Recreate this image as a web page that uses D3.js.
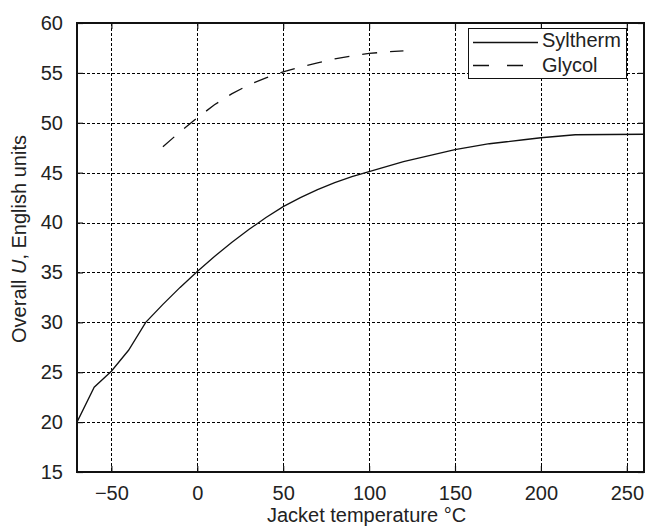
<!DOCTYPE html>
<html>
<head>
<meta charset="utf-8">
<script src="https://cdn.jsdelivr.net/npm/d3@7"></script>
<style>
  html, body { margin: 0; padding: 0; background: #fff; }
  svg { display: block; font-family: "Liberation Sans", Arial, Helvetica, sans-serif; }
</style>
</head>
<body>
<svg id="chart" width="649" height="526"></svg>
<script>
// Overall heat-transfer coefficient U vs. jacket temperature for two fluids
const sylthermTemp = [-70, -60, -50, -40, -30, -20, -10, 0, 10, 20, 30, 40, 50, 60, 70, 80, 90, 100,
  110, 120, 130, 140, 150, 160, 170, 180, 190, 200, 210, 220, 260];
const sylthermU = [20.0, 23.5, 25.1, 27.2, 30.0, 31.8, 33.5, 35.1, 36.6, 38.0, 39.3, 40.5, 41.6, 42.5, 43.3, 44.0, 44.6, 45.1,
  45.6, 46.1, 46.5, 46.9, 47.3, 47.6, 47.9, 48.1, 48.3, 48.5, 48.65, 48.8, 48.85];

const glycolTemp = [-20, -10, 0, 10, 20, 30, 40, 50, 60, 70, 80, 90, 100, 110, 120];
const glycolU = [47.6, 49.1, 50.5, 51.8, 52.9, 53.8, 54.5, 55.1, 55.6, 56.0, 56.4, 56.7, 56.95, 57.1, 57.2];

const xTicks = [-50, 0, 50, 100, 150, 200, 250];
const yTicks = [15, 20, 25, 30, 35, 40, 45, 50, 55, 60];
const seriesNames = ["Syltherm", "Glycol"];

const svg = d3.select("#chart");
const margin = { left: 77, top: 23, right: 5, bottom: 54 };
const W = 649, H = 526;
const x0 = margin.left, x1 = W - margin.right, y0 = margin.top, y1 = H - margin.bottom;

const x = d3.scaleLinear().domain([-70, 260]).range([x0, x1]);
const y = d3.scaleLinear().domain([15, 60]).range([y1, y0]);

const textColor = "#222";

// dotted grid
const grid = svg.append("g").attr("stroke", "#000").attr("stroke-width", 1).attr("stroke-dasharray", "3,2");
grid.selectAll("line.gx").data(xTicks).join("line")
  .attr("x1", d => Math.round(x(d)) + 0.5).attr("x2", d => Math.round(x(d)) + 0.5)
  .attr("y1", y0).attr("y2", y1);
grid.selectAll("line.gy").data(yTicks.filter(d => d > 15 && d < 60)).join("line")
  .attr("y1", d => Math.round(y(d)) + 0.5).attr("y2", d => Math.round(y(d)) + 0.5)
  .attr("x1", x0).attr("x2", x1);

// axes with inward ticks
const tickLen = 6;
const xAxisB = d3.axisBottom(x).tickValues(xTicks).tickSizeInner(-tickLen).tickSizeOuter(0).tickPadding(14);
const xAxisT = d3.axisTop(x).tickValues(xTicks).tickSizeInner(-tickLen).tickSizeOuter(0).tickFormat("");
const yAxisL = d3.axisLeft(y).tickValues(yTicks).tickSizeInner(-tickLen).tickSizeOuter(0).tickPadding(14);
const yAxisR = d3.axisRight(y).tickValues(yTicks).tickSizeInner(-tickLen).tickSizeOuter(0).tickFormat("");

function styleAxis(g) {
  g.select(".domain").remove();
  g.selectAll(".tick line").attr("stroke", "#111").attr("stroke-width", 1.2);
  g.selectAll(".tick text").attr("fill", textColor).style("font-size", "20px");
}
svg.append("g").attr("transform", `translate(0,${y1})`).call(xAxisB).call(styleAxis);
svg.append("g").attr("transform", `translate(0,${y0})`).call(xAxisT).call(styleAxis);
svg.append("g").attr("transform", `translate(${x0},0)`).call(yAxisL).call(styleAxis);
svg.append("g").attr("transform", `translate(${x1},0)`).call(yAxisR).call(styleAxis);

// curves
const line = d3.line().x(d => x(d[0])).y(d => y(d[1]));
const sylData = sylthermTemp.map((t, i) => [t, sylthermU[i]]);
const glyData = glycolTemp.map((t, i) => [t, glycolU[i]]);

svg.append("path").datum(sylData).attr("d", line)
  .attr("fill", "none").attr("stroke", "#111").attr("stroke-width", 1.3);
svg.append("path").datum(glyData).attr("d", line)
  .attr("fill", "none").attr("stroke", "#111").attr("stroke-width", 1.3)
  .attr("stroke-dasharray", "15,13");

// frame
svg.append("rect").attr("x", x0).attr("y", y0).attr("width", x1 - x0).attr("height", y1 - y0)
  .attr("fill", "none").attr("stroke", "#111").attr("stroke-width", 2);

// legend
const leg = svg.append("g");
leg.append("rect").attr("x", 468.5).attr("y", 28.5).attr("width", 158).attr("height", 50)
  .attr("fill", "#fff").attr("stroke", "#111").attr("stroke-width", 1);
const legRows = [
  { name: seriesNames[0], dash: null, cy: 42.5, base: 47 },
  { name: seriesNames[1], dash: "16,18", cy: 65.5, base: 72 }
];
legRows.forEach(r => {
  leg.append("line").attr("x1", 473).attr("x2", 538).attr("y1", r.cy).attr("y2", r.cy)
    .attr("stroke", "#111").attr("stroke-width", 1.3)
    .attr("stroke-dasharray", r.dash);
  leg.append("text").attr("x", 542).attr("y", r.base).attr("fill", textColor)
    .style("font-size", "20px").text(r.name);
});

// axis titles
svg.append("text").attr("x", (x0 + x1) / 2 + 6).attr("y", 522).attr("text-anchor", "middle")
  .attr("fill", textColor).style("font-size", "20px").text("Jacket temperature °C");

const yl = svg.append("text").attr("transform", "translate(26,239) rotate(-90)")
  .attr("text-anchor", "middle").attr("fill", textColor).style("font-size", "20px");
yl.append("tspan").text("Overall ");
yl.append("tspan").style("font-style", "italic").text("U");
yl.append("tspan").text(", English units");
</script>
</body>
</html>
